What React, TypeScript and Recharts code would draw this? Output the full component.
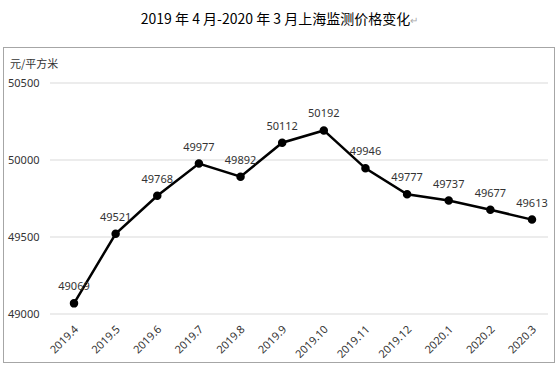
import React from 'react';
import {
  LineChart,
  Line,
  XAxis,
  YAxis,
  CartesianGrid,
  LabelList,
} from 'recharts';

const months = [
  '2019.4', '2019.5', '2019.6', '2019.7', '2019.8', '2019.9',
  '2019.10', '2019.11', '2019.12', '2020.1', '2020.2', '2020.3',
];
const prices = [49069, 49521, 49768, 49977, 49892, 50112, 50192, 49946, 49777, 49737, 49677, 49613];
const yTicks = [49000, 49500, 50000, 50500];

const FONT = '"Noto Sans", "Noto Sans CJK SC", sans-serif';

const data = months.map((m, i) => ({ month: m, price: prices[i] }));

const YTick = (props: any) => {
  const { y, payload } = props;
  return (
    <text x={8} y={y} dy={4} textAnchor="start" fontSize={11} fill="#333" fontFamily={FONT}>
      {payload.value}
    </text>
  );
};

const XTick = (props: any) => {
  const { x, y, payload } = props;
  return (
    <text
      x={x + 5}
      y={y + 8}
      textAnchor="end"
      fontSize={11}
      fill="#333"
      fontFamily={FONT}
      transform={`rotate(-45 ${x + 5} ${y + 8})`}
    >
      {payload.value}
    </text>
  );
};

export default function App() {
  return (
    <div style={{ position: 'absolute', left: 0, top: 0, width: 559, height: 371, background: '#fff' }}>
      <div
        style={{
          position: 'absolute',
          top: 8,
          left: 0,
          width: 559,
          textAlign: 'center',
          fontSize: 14,
          fontFamily: '"Noto Sans CJK SC", sans-serif',
          color: '#000',
        }}
      >
        2019 年 4 月-2020 年 3 月上海监测价格变化<span style={{ color: '#aaa', fontSize: 10 }}>↵</span>
      </div>
      <div
        style={{
          position: 'absolute',
          left: 3,
          top: 47,
          width: 550,
          height: 314,
          border: '1px solid #a6a6a6',
        }}
      />
      <div
        style={{
          position: 'absolute',
          left: 10,
          top: 55,
          fontSize: 11,
          fontFamily: '"Noto Sans CJK SC", sans-serif',
          color: '#333',
        }}
      >
        元/平方米
      </div>
      <div style={{ position: 'absolute', left: 0, top: 0 }}>
        <LineChart
          width={559}
          height={371}
          data={data}
          margin={{ top: 83, right: 11, bottom: 0, left: 0 }}
        >
          <CartesianGrid vertical={false} stroke="#d9d9d9" />
          <XAxis
            dataKey="month"
            height={57}
            axisLine={false}
            tickLine={false}
            interval={0}
            padding={{ left: 24, right: 16 }}
            tick={<XTick />}
          />
          <YAxis
            width={50}
            domain={[49000, 50500]}
            ticks={yTicks}
            axisLine={false}
            tickLine={false}
            tick={<YTick />}
          />
          <Line
            dataKey="price"
            stroke="#000"
            strokeWidth={2.5}
            dot={{ r: 3, fill: '#000', stroke: '#000' }}
            isAnimationActive={false}
          >
            <LabelList
              dataKey="price"
              position="top"
              offset={13}
              fontSize={11}
              fill="#333"
              fontFamily={FONT}
            />
          </Line>
        </LineChart>
      </div>
    </div>
  );
}
